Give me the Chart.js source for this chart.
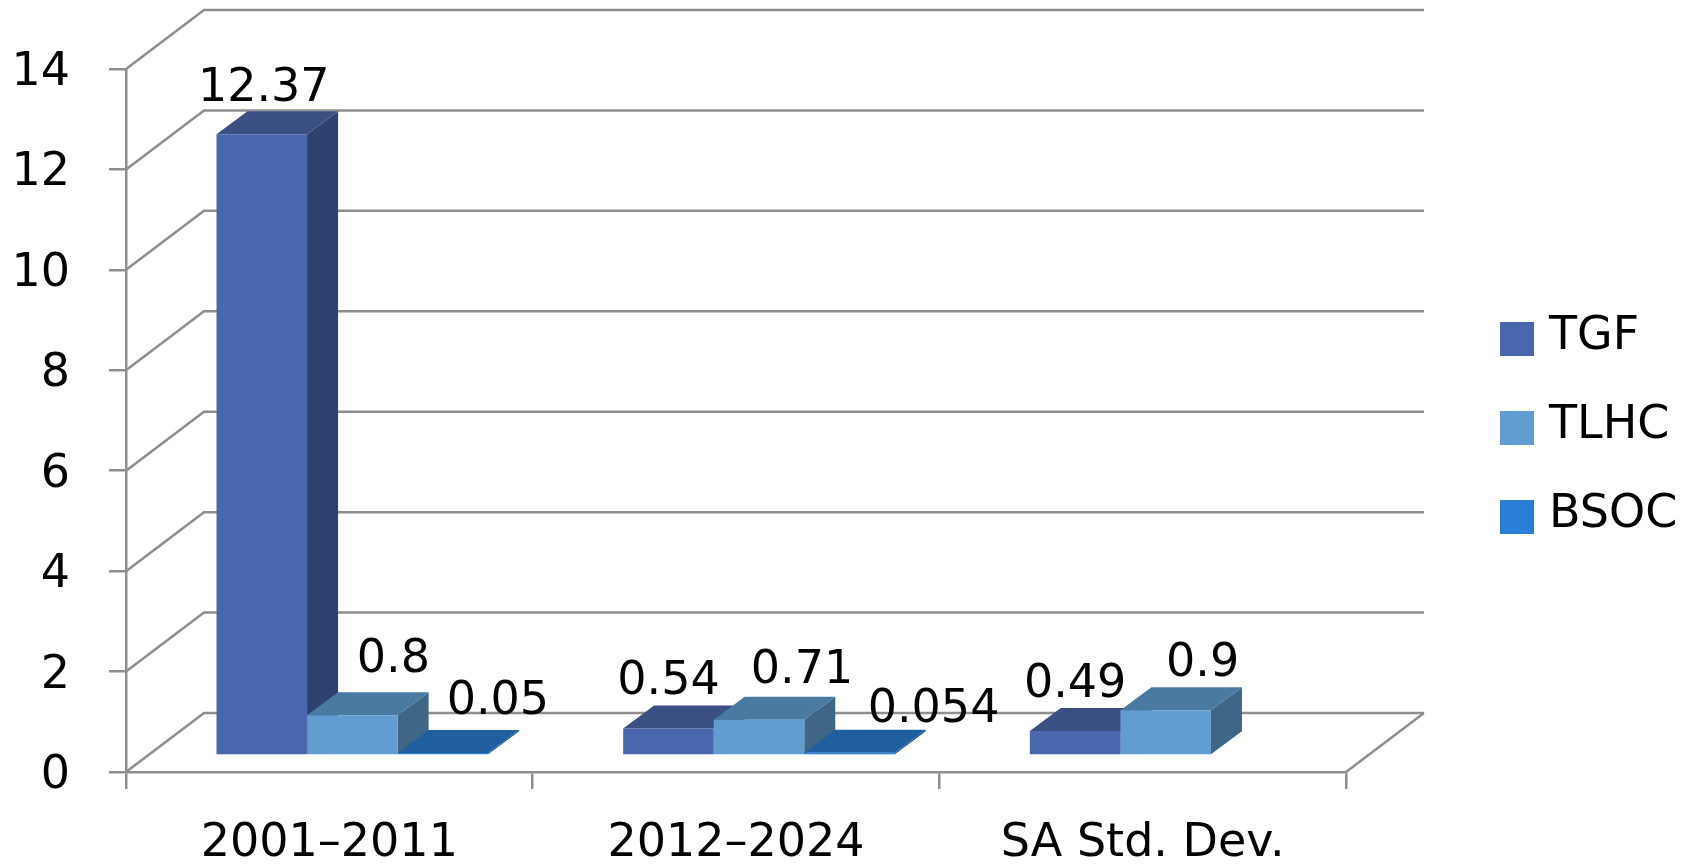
<!DOCTYPE html>
<html lang="en">
<head>
    <meta charset="UTF-8">
    <title>TGF, TLHC and BSOC</title>
    <script src="https://cdn.jsdelivr.net/npm/chart.js"></script>
    <style>
        body { margin: 0; padding: 0; background: #fff; }
        canvas { display: block; }
    </style>
</head>
<body>
    <canvas id="graph" width="1682" height="865"></canvas>

    <script>
        const categories = ['2001–2011', '2012–2024', 'SA Std. Dev.'];
        const tgfValues = [12.37, 0.54, 0.49];
        const tlhcValues = [0.8, 0.71, 0.9];
        const bsocValues = [0.05, 0.054, null];
        const seriesNames = ['TGF', 'TLHC', 'BSOC'];

        const FONT = '46px "DejaVu Sans"';
        const LINE = '#8e8e8e';
        const LINE_W = 2.5;

        // colours of the three faces of each bar
        const faces = [
            { front: '#4a66ac', top: '#3a4f82', side: '#2f416f' },
            { front: '#629dd1', top: '#4a7aa1', side: '#3f6687' },
            { front: '#297fd5', top: '#1f5fa0', side: '#1a5288' }
        ];

        // 3d look: how far the back wall and the bars are pushed
        const wallDx = 78, wallDy = 59;
        const barDx = 23, barDy = 16.5, depthDx = 31, depthDy = 23;

        // hand placed data labels: [shift right, rise above the bar front]
        const labelPlaces = [
            [[2, 33], [0, 34], [0, 34]],
            [[41, 43], [43, 37], [37, 34]],
            [[55, 39], [84, 31], null]
        ];

        function poly(ctx, color, pts) {
            ctx.fillStyle = color;
            ctx.beginPath();
            pts.forEach((p, i) => i ? ctx.lineTo(p[0], p[1]) : ctx.moveTo(p[0], p[1]));
            ctx.closePath();
            ctx.fill();
        }

        const fake3d = {
            id: 'fake3d',
            beforeDatasetsDraw(chart) {
                const { ctx, chartArea: a, scales: { y } } = chart;
                ctx.save();
                ctx.strokeStyle = LINE;
                ctx.lineWidth = LINE_W;
                y.ticks.forEach(t => {
                    const py = y.getPixelForValue(t.value);
                    ctx.beginPath();
                    ctx.moveTo(a.left, py);
                    ctx.lineTo(a.left + wallDx, py - wallDy);
                    ctx.lineTo(a.right + wallDx, py - wallDy);
                    ctx.stroke();
                });
                ctx.beginPath();
                ctx.moveTo(a.right, a.bottom);
                ctx.lineTo(a.right + wallDx, a.bottom - wallDy);
                ctx.stroke();
                ctx.restore();

                // bars must go left to right so the later ones cover the sides of the earlier ones
                ctx.save();
                ctx.translate(barDx, -barDy);
                chart.data.datasets.forEach((ds, d) => {
                    const meta = chart.getDatasetMeta(d);
                    const f = faces[d];
                    meta.data.forEach((bar, i) => {
                        if (ds.data[i] === null) return;
                        const r = bar.x + bar.width / 2;
                        const l = bar.x - bar.width / 2;
                        poly(ctx, f.side, [[r, bar.y], [r + depthDx, bar.y - depthDy],
                            [r + depthDx, bar.base - depthDy], [r, bar.base]]);
                        poly(ctx, f.top, [[l, bar.y], [l + depthDx, bar.y - depthDy],
                            [r + depthDx, bar.y - depthDy], [r, bar.y]]);
                    });
                    meta.controller.draw();
                });
                ctx.restore();
            },
            beforeDatasetDraw() {
                return false;
            },
            afterDatasetsDraw(chart) {
                const ctx = chart.ctx;
                ctx.save();
                ctx.font = FONT;
                ctx.fillStyle = '#000';
                ctx.textAlign = 'center';
                ctx.textBaseline = 'alphabetic';
                chart.data.datasets.forEach((ds, d) => {
                    chart.getDatasetMeta(d).data.forEach((bar, i) => {
                        if (ds.data[i] === null) return;
                        const place = labelPlaces[d][i];
                        ctx.fillText(String(ds.data[i]), bar.x + barDx + place[0], bar.y - barDy - place[1]);
                    });
                });
                ctx.restore();
            },
            afterDraw(chart) {
                // legend box sits lower than its text in the original, so it is drawn here
                const ctx = chart.ctx;
                ctx.save();
                ctx.font = FONT;
                ctx.textAlign = 'left';
                ctx.textBaseline = 'alphabetic';
                chart.data.datasets.forEach((ds, d) => {
                    const top = 322 + d * 89;
                    ctx.fillStyle = faces[d].front;
                    ctx.fillRect(1500, top, 34, 34);
                    ctx.fillStyle = '#000';
                    ctx.fillText(ds.label, 1549, top + 27);
                });
                ctx.restore();
            }
        };

        const valueSets = [tgfValues, tlhcValues, bsocValues];

        const chart = new Chart(document.getElementById('graph').getContext('2d'), {
            type: 'bar',
            data: {
                labels: categories,
                datasets: seriesNames.map((name, i) => ({
                    label: name,
                    data: valueSets[i],
                    backgroundColor: faces[i].front,
                    barPercentage: 1,
                    categoryPercentage: 0.668
                }))
            },
            options: {
                responsive: false,
                animation: false,
                layout: { padding: { top: 69, right: 336, left: 0, bottom: 0 } },
                plugins: { legend: { display: false }, tooltip: { enabled: false } },
                scales: {
                    x: {
                        afterFit: s => { s.height = 93; },
                        grid: { color: LINE, drawOnChartArea: false, tickLength: 17, lineWidth: LINE_W },
                        border: { color: LINE, width: LINE_W },
                        ticks: { color: '#000', font: { family: 'DejaVu Sans', size: 46 }, padding: 27, maxRotation: 0, autoSkip: false }
                    },
                    y: {
                        min: 0,
                        max: 14,
                        afterFit: s => { s.width = 126; },
                        grid: { color: LINE, drawOnChartArea: false, tickLength: 17, lineWidth: LINE_W },
                        border: { color: LINE, width: LINE_W },
                        ticks: { stepSize: 2, color: '#000', font: { family: 'DejaVu Sans', size: 46 }, padding: 39, labelOffset: 4 }
                    }
                }
            },
            plugins: [fake3d]
        });
    </script>
</body>
</html>
